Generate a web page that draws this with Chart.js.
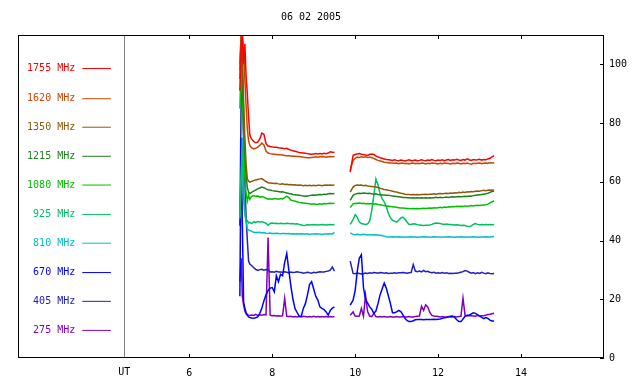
<!DOCTYPE html>
<html>
<head>
<meta charset="utf-8">
<script src="https://cdn.jsdelivr.net/npm/chart.js@4.4.0/dist/chart.umd.min.js"></script>
<style>
  html, body { margin: 0; padding: 0; background: #fff; }
  canvas { display: block; }
</style>
</head>
<body>
<canvas id="myChart" width="640" height="384"></canvas>
<script>
// time in UT hours, 9.70 is the data gap
const hours = [
  7.22, 7.25, 7.28, 7.31, 7.34, 7.37, 7.40, 7.43, 7.46,
  7.50, 7.55, 7.60, 7.65, 7.70, 7.75, 7.80, 7.85, 7.90, 7.95,
  8.00, 8.05, 8.10, 8.15, 8.20, 8.25, 8.30, 8.35, 8.40, 8.45,
  8.50, 8.55, 8.60, 8.65, 8.70, 8.75, 8.80, 8.85, 8.90, 8.95,
  9.00, 9.05, 9.10, 9.15, 9.20, 9.25, 9.30, 9.35, 9.40, 9.45, 9.50,
  9.70,
  9.88, 9.95,
  10.00, 10.05, 10.10, 10.15, 10.20, 10.25, 10.30, 10.35, 10.40, 10.45,
  10.50, 10.55, 10.60, 10.65, 10.70, 10.75, 10.80, 10.85, 10.90, 10.95,
  11.00, 11.05, 11.10, 11.15, 11.20, 11.25, 11.30, 11.35, 11.40, 11.45,
  11.50, 11.55, 11.60, 11.65, 11.70, 11.75, 11.80, 11.85, 11.90, 11.95,
  12.00, 12.05, 12.10, 12.15, 12.20, 12.25, 12.30, 12.35, 12.40, 12.45,
  12.50, 12.55, 12.60, 12.65, 12.70, 12.75, 12.80, 12.85, 12.90, 12.95,
  13.00, 13.05, 13.10, 13.15, 13.20, 13.25, 13.30, 13.35
];

const mhz1755 = [
  91, 106, 110, 100, 107, 96, 90, 82, 76,
  74.6, 73.8, 73.3, 73.5, 74.6, 76.6, 76.2, 73.0, 72.2, 72.0,
  71.9, 71.8, 71.8, 71.6, 71.5, 71.4, 71.3, 71.4, 71.0, 70.8,
  70.6, 70.4, 70.2, 70.0, 69.9, 69.8, 69.7, 69.6, 69.5, 69.4,
  69.5, 69.6, 69.5, 69.6, 69.5, 69.7, 69.6, 69.8, 70.2, 70.1, 70.0,
  null,
  63.3, 69.0,
  69.3, 69.5, 69.6, 69.4, 69.3, 69.1, 69.0, 69.3, 69.5, 69.3,
  68.8, 68.5, 68.2, 68.0, 67.8, 67.6, 67.5, 67.4, 67.3, 67.5,
  67.3, 67.2, 67.4, 67.3, 67.1, 67.3, 67.5, 67.2, 67.3, 67.4,
  67.2, 67.3, 67.5, 67.3, 67.2, 67.4, 67.3, 67.6, 67.3, 67.2,
  67.4, 67.3, 67.5, 67.2, 67.4, 67.6, 67.3, 67.5, 67.4, 67.7,
  67.4, 67.3, 67.6, 67.4, 67.8, 67.5, 67.3, 67.6, 67.4, 67.5,
  67.7, 67.4, 67.6, 67.5, 67.8, 68.0, 68.5, 68.9
];

const mhz1620 = [
  98, 110, 110, 104, 95, 86, 78, 74, 72.4,
  71.6, 71.2, 71.4, 71.8, 72.4, 73.2, 72.6, 70.5, 69.8, 69.6,
  69.5, 69.4, 69.3, 69.2, 69.2, 69.1, 69.0, 68.9, 68.9, 68.8,
  68.7, 68.7, 68.6, 68.6, 68.5, 68.4, 68.3, 68.2, 68.2, 68.3,
  68.4, 68.5, 68.4, 68.5, 68.6, 68.5, 68.4, 68.5, 68.6, 68.5, 68.6,
  null,
  64.0, 67.3,
  68.0, 68.4, 68.3, 68.5, 68.4, 68.5, 68.3, 68.4, 68.2, 68.0,
  67.6, 67.3, 67.1, 66.9, 66.7, 66.6, 66.5, 66.4, 66.4, 66.3,
  66.4, 66.2, 66.3, 66.4, 66.2, 66.3, 66.1, 66.3, 66.4, 66.2,
  66.3, 66.2, 66.4, 66.3, 66.1, 66.3, 66.2, 66.4, 66.3, 66.2,
  66.1, 66.3, 66.2, 66.4, 66.3, 66.2, 66.1, 66.3, 66.2, 66.4,
  66.3, 66.1, 66.3, 66.2, 66.4, 66.2, 66.0, 66.3, 66.2, 66.3,
  66.4, 66.2, 66.3, 66.4, 66.3, 66.5, 66.4, 66.5
];

const mhz1350 = [
  100, 110, 104, 88, 75, 66, 61, 60.2, 59.9,
  60.1, 60.4, 60.6, 60.8, 61.0, 61.1, 60.6, 60.1, 59.7, 59.6,
  59.5, 59.4, 59.5, 59.3, 59.2, 59.3, 59.1, 59.2, 59.0, 59.1,
  58.9, 59.0, 58.8, 58.9, 58.8, 58.7, 58.8, 58.7, 58.8, 58.7,
  58.8, 58.7, 58.8, 58.8, 58.7, 58.8, 58.9, 58.8, 58.9, 58.8, 58.9,
  null,
  56.5, 58.2,
  58.8, 58.9, 58.8, 58.9, 58.7, 58.8, 58.6, 58.5, 58.4, 58.3,
  58.2, 58.1, 57.8, 57.6, 57.4, 57.3, 57.1, 57.0, 56.8, 56.6,
  56.5, 56.3, 56.1, 56.0, 55.8, 55.7, 55.7, 55.6, 55.7, 55.6,
  55.7, 55.6, 55.7, 55.7, 55.8, 55.7, 55.8, 55.8, 55.9, 55.8,
  55.9, 56.0, 55.9, 56.0, 56.1, 56.0, 56.2, 56.1, 56.3, 56.2,
  56.4, 56.3, 56.5, 56.4, 56.6, 56.5, 56.7, 56.6, 56.8, 56.9,
  56.8, 57.0, 57.1, 57.0, 57.1, 57.2, 57.1, 57.2
];

const mhz1215 = [
  95, 108, 98, 82, 70, 62, 58, 56.5, 56.0,
  56.4, 56.8, 57.2, 57.6, 57.9, 58.2, 58.0, 57.6, 57.3, 57.2,
  57.0, 56.9, 56.8, 56.7, 56.5, 56.6, 56.4, 56.2, 56.0, 55.9,
  55.7, 55.6, 55.5, 55.4, 55.3, 55.2, 55.1, 55.2, 55.3, 55.4,
  55.5, 55.4, 55.6, 55.7, 55.6, 55.8, 55.7, 55.9, 56.0, 55.9, 56.0,
  null,
  53.7, 55.4,
  55.8, 56.0, 56.1, 56.0, 56.2, 56.1, 56.0, 56.1, 55.9, 55.8,
  55.9, 55.7, 55.6, 55.5, 55.5, 55.4, 55.4, 55.3, 55.2, 55.1,
  55.0, 54.9, 54.8, 54.7, 54.7, 54.6, 54.6, 54.5, 54.6, 54.5,
  54.6, 54.5, 54.6, 54.5, 54.6, 54.5, 54.6, 54.5, 54.6, 54.7,
  54.6, 54.7, 54.6, 54.7, 54.8, 54.7, 54.8, 54.9, 54.8, 54.9,
  55.0, 54.9, 55.0, 55.1, 55.0, 55.2, 55.1, 55.3, 55.4, 55.5,
  55.6, 55.7, 55.8, 55.9, 56.1, 56.4, 56.7, 56.8
];

const mhz1080 = [
  85, 100, 88, 75, 62, 56, 53.5, 55.5, 54.0,
  55.0, 55.3, 55.0, 55.2, 54.8, 55.0, 54.8, 54.4, 54.1, 54.2,
  54.1, 54.3, 54.2, 54.1, 54.3, 54.2, 54.6, 55.1, 54.6, 53.8,
  53.6, 53.4, 53.2, 53.0, 52.9, 52.8, 52.7, 52.6, 52.5, 52.4,
  52.5, 52.3, 52.4, 52.5, 52.4, 52.6, 52.5, 52.6, 52.7, 52.6, 52.7,
  null,
  51.2, 52.5,
  52.7, 52.6, 52.8, 52.6, 52.7, 52.5, 52.6, 52.5, 52.6, 52.4,
  52.5, 52.3, 52.2, 52.0, 51.9, 51.8, 51.7, 51.6, 51.5, 51.4,
  51.3, 51.2, 51.1, 51.1, 51.0, 50.9, 50.9, 50.8, 50.9, 50.8,
  50.9, 50.8, 50.9, 51.0, 50.9, 51.0, 51.1, 51.0, 51.2, 51.1,
  51.2, 51.3, 51.2, 51.4, 51.3, 51.5, 51.4, 51.6, 51.5, 51.7,
  51.6, 51.7, 51.6, 51.8, 51.7, 51.8, 51.9, 51.8, 51.9, 52.0,
  51.9, 52.0, 52.1, 52.2, 52.4, 52.8, 53.2, 53.5
];

const mhz925 = [
  47.5, 60, 72, 55, 49, 46.5, 46.8, 46.0, 46.2,
  45.8, 46.4, 46.2, 46.5, 46.3, 46.4, 46.2, 45.9, 45.2, 45.8,
  46.0, 45.8, 45.9, 45.7, 45.9, 45.8, 45.7, 45.9, 45.8, 45.7,
  45.8, 45.6, 45.7, 45.5, 45.3, 45.1, 45.2, 45.4, 45.3, 45.4,
  45.5, 45.4, 45.3, 45.4, 45.5, 45.4, 45.3, 45.4, 45.5, 45.4, 45.5,
  null,
  45.5, 47.1,
  48.8, 48.0, 46.3, 45.8, 45.6, 45.5, 45.7, 46.7, 50.3, 55.4,
  61.0, 59.0, 56.0, 54.3, 53.2, 51.7, 49.2, 47.8, 46.9, 46.6,
  46.3, 46.9, 47.7, 48.0, 47.3, 46.3, 45.5, 45.5, 45.7, 45.6,
  45.4, 45.3, 45.2, 45.1, 45.2, 45.2, 45.3, 45.5, 45.8, 46.0,
  45.9, 45.8, 45.6, 45.5, 45.6, 45.5, 45.5, 45.4, 45.3, 45.4,
  45.3, 45.1, 45.2, 45.1, 44.9, 44.8, 45.0, 45.5, 45.8, 45.5,
  45.4, 45.5, 45.4, 45.5, 45.4, 45.5, 45.4, 45.5
];

const mhz810 = [
  48, 62, 75, 58, 50, 47, 44, 43.6, 43.4,
  43.2, 42.8, 42.7, 42.7, 42.8, 42.6, 42.7, 42.5, 42.4, 42.6,
  42.4, 42.4, 42.5, 42.4, 42.3, 42.4, 42.4, 42.3, 42.4, 42.2,
  42.3, 42.2, 42.3, 42.2, 42.3, 42.2, 42.2, 42.3, 42.1, 42.2,
  42.2, 42.3, 42.2, 42.2, 42.1, 42.2, 42.2, 42.3, 42.2, 42.2, 42.8,
  null,
  42.6, 42.1,
  42.0, 42.1, 42.0, 42.0, 42.1, 42.0, 41.9, 42.0, 42.0, 41.9,
  42.0, 41.9, 41.8, 41.7, 41.5, 41.3, 41.2, 41.2, 41.3, 41.2,
  41.2, 41.3, 41.2, 41.2, 41.1, 41.2, 41.2, 41.3, 41.2, 41.2,
  41.1, 41.2, 41.2, 41.3, 41.2, 41.2, 41.1, 41.2, 41.3, 41.2,
  41.2, 41.2, 41.1, 41.2, 41.2, 41.3, 41.2, 41.2, 41.1, 41.2,
  41.2, 41.3, 41.2, 41.2, 41.1, 41.2, 41.2, 41.3, 41.2, 41.2,
  41.1, 41.2, 41.2, 41.3, 41.2, 41.2, 41.3, 41.4
];

const mhz670 = [
  21, 75, 45, 19, 17, 15.5, 14.5, 14.0, 13.8,
  13.6, 13.5, 13.7, 14.0, 15.2, 17.0, 19.5, 21.5, 23.0, 23.8,
  24.0, 22.5, 28.0, 26.0, 28.5, 28.0, 32.5, 35.6, 30.0, 24.5,
  20.0, 16.8, 15.5, 14.2, 14.2, 16.9, 18.5, 21.5, 25.0, 26.0,
  23.5, 21.0, 19.7, 17.4, 16.9, 16.5, 15.7, 14.6, 16.2, 17.0, 17.4,
  null,
  18.0, 19.7,
  23.0, 29.5, 34.0, 35.2, 24.0, 20.0, 18.7, 17.4, 16.6, 15.2,
  16.0, 18.5, 21.5, 23.5, 25.5, 23.8, 21.2, 18.5, 15.4, 15.4,
  15.7, 16.2, 15.8, 14.8, 13.5, 12.8, 12.4, 12.4, 12.7, 13.0,
  13.1, 13.1, 13.1, 13.0, 13.1, 13.1, 13.1, 13.1, 13.2, 13.1,
  13.2, 13.3, 13.5, 13.7, 13.8, 14.0, 14.2, 14.3, 13.8, 13.0,
  12.4, 12.4, 13.3, 14.2, 14.6, 14.6, 15.0, 15.4, 15.2, 14.8,
  14.3, 13.8, 13.4, 13.8, 13.5, 12.9, 12.6, 12.6
];

const mhz405 = [
  45, 88, 92, 75, 60, 48, 40, 33, 32,
  31.5, 30.8, 30.2, 29.8, 30.1, 30.2, 29.9, 30.1, 30.0, 29.3,
  29.4, 29.2, 29.5, 29.3, 29.3, 29.2, 29.4, 29.2, 29.0, 29.3,
  29.1, 29.2, 29.4, 29.2, 29.1, 28.9, 29.0, 29.2, 29.0, 28.9,
  29.2, 29.0, 29.2, 29.4, 29.3, 29.3, 29.5, 29.6, 29.9, 31.0, 29.6,
  null,
  33.0, 28.8,
  28.7, 28.9, 28.8, 28.6, 28.7, 28.9, 28.8, 29.0, 28.9, 29.1,
  29.0, 28.9, 29.1, 29.0, 28.9, 29.0, 28.8, 28.9, 28.9, 29.0,
  28.9, 29.0, 29.0, 29.1, 29.0, 28.9, 29.0, 29.1, 31.8, 29.6,
  29.4, 29.6, 29.3, 29.8, 29.4, 29.5, 29.2, 29.0, 29.2, 28.9,
  29.0, 28.9, 29.1, 28.9, 29.0, 28.8, 28.9, 28.8, 28.9, 28.9,
  29.0, 29.2, 29.4, 29.8, 29.6, 29.2, 28.9, 29.1, 28.7, 29.0,
  28.8, 29.2, 28.9, 28.7, 29.0, 28.8, 28.7, 28.8
];

const mhz275 = [
  26, 34, 21, 18, 16, 15, 14.8, 14.6, 14.5,
  14.6, 14.5, 14.9, 14.5, 14.7, 14.6, 14.8, 14.7, 41.0, 14.6,
  14.4, 14.5, 14.3, 14.4, 14.3, 14.4, 20.3, 14.2, 14.1, 14.2,
  14.0, 14.1, 14.0, 14.1, 14.0, 14.2, 14.1, 14.0, 14.1, 14.0,
  14.2, 14.0, 14.1, 14.0, 14.1, 14.0, 14.1, 14.0, 14.1, 14.0, 14.1,
  null,
  14.6, 15.7,
  14.3, 14.2, 14.3, 16.9, 14.2, 21.4, 15.8, 14.3, 14.1, 15.2,
  14.1, 14.0, 14.1, 14.0, 14.1, 14.0, 14.0, 14.1, 14.0, 14.0,
  14.1, 14.0, 14.0, 14.1, 14.0, 14.0, 14.1, 14.0, 14.0, 14.1,
  14.2, 14.3, 17.6, 16.2, 18.1, 17.4, 15.5, 14.5, 14.3, 14.2,
  14.1, 14.0, 14.1, 14.0, 14.0, 14.1, 14.0, 14.0, 14.1, 14.0,
  14.1, 14.2, 20.4, 14.5, 14.3, 14.5, 14.4, 14.3, 14.2, 14.5,
  14.3, 14.4, 14.4, 14.6, 14.8, 14.9, 15.1, 15.2
];

const freqLabels = ["1755 MHz", "1620 MHz", "1350 MHz", "1215 MHz", "1080 MHz",
  "925 MHz", "810 MHz", "670 MHz", "405 MHz", "275 MHz"];
const colors = ["#ff0000", "#c84800", "#8c5a0a", "#208020", "#00c000",
  "#00c060", "#00c0c0", "#0000ff", "#2020c0", "#8000c0"];
const series = [mhz1755, mhz1620, mhz1350, mhz1215, mhz1080,
  mhz925, mhz810, mhz670, mhz405, mhz275];

// legend rows sit inside the plot, left of the UT line
const legendY = [98.6, 88.3, 78.6, 68.7, 58.9, 48.9, 39.1, 29.1, 19.3, 9.4];
const legendLineX = [3.42, 4.11];
const legendTextX = 3.25;
const utX = 4.43;

const xTicks = [6, 8, 10, 12, 14];
const yTicks = [0, 20, 40, 60, 80, 100];
const title = "06 02 2005";

const font = "10px 'DejaVu Sans Mono'";

var datasets = [];
series.forEach((values, i) => {
  datasets.push({
    data: hours.map((t, j) => ({ x: t, y: values[j] })),
    borderColor: colors[i],
    borderWidth: 1.5,
    pointRadius: 0,
    spanGaps: false,
  });
  datasets.push({
    data: [
      { x: legendLineX[0], y: legendY[i] },
      { x: legendLineX[1], y: legendY[i] },
    ],
    borderColor: colors[i],
    borderWidth: 1,
    pointRadius: 0,
  });
});

const framePlugin = {
  id: "frame",
  beforeDatasetsDraw(chart) {
    const ctx = chart.ctx;
    const area = chart.chartArea;
    const px = Math.round(chart.scales.x.getPixelForValue(utX)) + 0.5;
    ctx.save();
    ctx.strokeStyle = "#808080";
    ctx.lineWidth = 1;
    ctx.beginPath();
    ctx.moveTo(px, area.top);
    ctx.lineTo(px, area.bottom);
    ctx.stroke();
    ctx.restore();
  },
  afterDraw(chart) {
    const ctx = chart.ctx;
    const area = chart.chartArea;
    const xs = chart.scales.x;
    const ys = chart.scales.y;
    ctx.save();
    ctx.strokeStyle = "#000";
    ctx.lineWidth = 1;
    ctx.strokeRect(area.left + 0.5, area.top + 0.5,
      area.right - area.left - 1, area.bottom - area.top - 1);

    ctx.beginPath();
    xTicks.forEach((v) => {
      const px = Math.round(xs.getPixelForValue(v)) + 0.5;
      ctx.moveTo(px, area.bottom);
      ctx.lineTo(px, area.bottom - 4);
      ctx.moveTo(px, area.top);
      ctx.lineTo(px, area.top + 4);
    });
    yTicks.forEach((v) => {
      const py = Math.round(ys.getPixelForValue(v)) + 0.5;
      ctx.moveTo(area.right, py);
      ctx.lineTo(area.right - 4, py);
    });
    ctx.stroke();

    ctx.font = font;
    ctx.textBaseline = "middle";
    ctx.fillStyle = "#000";
    ctx.textAlign = "center";
    ctx.fillText(title, (area.left + area.right) / 2, 17);
    ctx.fillText("UT", xs.getPixelForValue(utX), area.bottom + 14);

    ctx.textAlign = "right";
    freqLabels.forEach((label, i) => {
      ctx.fillStyle = colors[i];
      ctx.fillText(label, xs.getPixelForValue(legendTextX), ys.getPixelForValue(legendY[i]));
    });
    ctx.restore();
  },
};

new Chart(document.getElementById("myChart").getContext("2d"), {
  type: "line",
  data: { datasets: datasets },
  options: {
    responsive: false,
    animation: false,
    layout: { padding: { left: 18, top: 35, right: 0, bottom: 0 } },
    plugins: {
      legend: { display: false },
      tooltip: { enabled: false },
    },
    scales: {
      x: {
        type: "linear",
        min: 1.87,
        max: 16.0,
        afterBuildTicks: (scale) => {
          scale.ticks = xTicks.map((v) => ({ value: v }));
        },
        afterFit: (scale) => {
          scale.height = 26;
        },
        grid: { display: false, drawTicks: false },
        border: { display: false },
        ticks: {
          color: "#000",
          font: { family: "DejaVu Sans Mono", size: 10 },
          padding: 9,
          maxRotation: 0,
        },
      },
      y: {
        position: "right",
        min: 0,
        max: 110,
        afterBuildTicks: (scale) => {
          scale.ticks = yTicks.map((v) => ({ value: v }));
        },
        afterFit: (scale) => {
          scale.width = 36;
        },
        grid: { display: false, drawTicks: false },
        border: { display: false },
        ticks: {
          color: "#000",
          font: { family: "DejaVu Sans Mono", size: 10 },
          padding: 5,
        },
      },
    },
  },
  plugins: [framePlugin],
});
</script>
</body>
</html>
